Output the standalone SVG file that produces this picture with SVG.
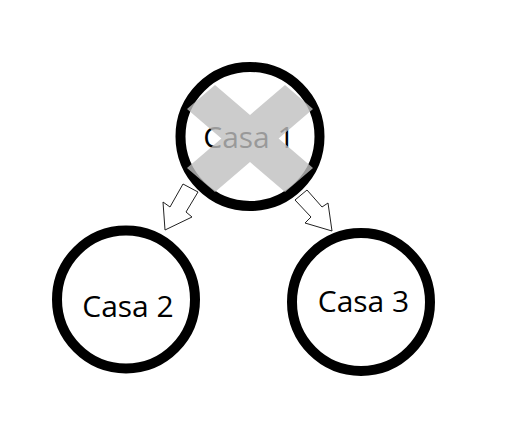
<svg xmlns="http://www.w3.org/2000/svg" width="520" height="432" viewBox="0 0 520 432">
<style>
.node{fill:#fff;stroke:#000;stroke-width:10}
.lbl{font-family:"Open Sans","Noto Sans",sans-serif;font-size:30px;fill:#000;text-anchor:middle}
.arr{fill:#fff;stroke:#222;stroke-width:1;stroke-linejoin:miter}
.cross{fill:#bfbfbf;fill-opacity:0.8}
</style>
<rect width="520" height="432" fill="#fff"/>
<g id="connectors">
<polygon class="arr" points="183,184 198,192 186,212 192,217 165,230 163,202 170,207"/>
<polygon class="arr" points="295,200 307,190 322,207 328,203 332,231 305,223 311,217"/>
</g>
<g id="casa1">
<circle class="node" cx="250" cy="136.5" r="69.5"/>
<text class="lbl" x="249" y="148">Casa 1</text>
<polygon class="cross" points="215,85 250,115 285,85 313,109 278.6,138.5 313,168 285,192 250,162 215,192 187,168 221.4,138.5 187,109"/>
</g>
<g id="casa2">
<circle class="node" cx="126" cy="299.5" r="69"/>
<text class="lbl" x="128" y="317">Casa 2</text>
</g>
<g id="casa3">
<circle class="node" cx="361" cy="302" r="69"/>
<text class="lbl" x="363.5" y="312">Casa 3</text>
</g>
</svg>
